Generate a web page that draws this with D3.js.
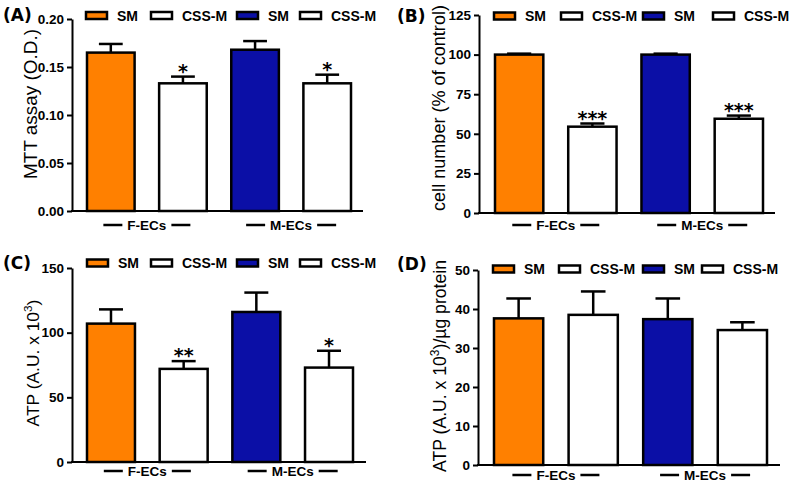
<!DOCTYPE html>
<html>
<head>
<meta charset="utf-8">
<script src="https://cdn.jsdelivr.net/npm/d3@7"></script>
<style>
  body { margin: 0; background: #fff; }
  svg { display: block; font-family: "Liberation Sans", Arial, sans-serif; }
</style>
</head>
<body>
<svg width="790" height="484"></svg>
<script>
// bars in each panel, left to right
let groups = ["F-ECs", "M-ECs"];
let barKeys = ["F-SM", "F-CSS", "M-SM", "M-CSS"];
let seriesNames = ["SM", "CSS-M", "SM", "CSS-M"];
let seriesColors = ["#ff8000", "#ffffff", "#0b0fa6", "#ffffff"];

// (A) MTT assay
let mttMean = [0.165, 0.133, 0.168, 0.133];
let mttErr = [0.009, 0.007, 0.009, 0.009];
let mttSig = ["", "*", "", "*"];
let mttTicks = [0, 0.05, 0.10, 0.15, 0.20];

// (B) cell number
let cellMean = [100, 54.5, 100, 59.5];
let cellErr = [0.6, 2.0, 0.6, 2.0];
let cellSig = ["", "***", "", "***"];
let cellTicks = [0, 25, 50, 75, 100, 125];

// (C) ATP
let atpMean = [107, 72, 116, 73];
let atpErr = [11, 6, 15, 13];
let atpSig = ["", "**", "", "*"];
let atpTicks = [0, 50, 100, 150];

// (D) ATP per protein
let atpProtMean = [37.6, 38.5, 37.4, 34.6];
let atpProtErr = [5.1, 6.0, 5.3, 2.0];
let atpProtSig = ["", "", "", ""];
let atpProtTicks = [0, 10, 20, 30, 40, 50];

let svg = d3.select("svg");

function panel(p) {
    let g = svg.append("g");

    let y = d3.scaleLinear()
        .domain([0, p.ticks[p.ticks.length - 1]])
        .range([p.bottom, p.top]);

    let x = d3.scaleBand()
        .domain(barKeys)
        .range(p.barRange)
        .paddingInner(0.34);

    let data = barKeys.map((k, i) => ({
        key: k, mean: p.mean[i], err: p.err[i], sig: p.sig[i], color: seriesColors[i]
    }));

    // error bars (upper only) drawn first, bar covers the lower part
    let eb = g.selectAll(".err").data(data).enter().append("g");
    eb.append("line")
        .attr("x1", d => x(d.key) + x.bandwidth() / 2)
        .attr("x2", d => x(d.key) + x.bandwidth() / 2)
        .attr("y1", d => y(d.mean))
        .attr("y2", d => y(d.mean + d.err))
        .attr("stroke", "#000").attr("stroke-width", 2.5);
    eb.append("line")
        .attr("x1", d => x(d.key) + x.bandwidth() / 4)
        .attr("x2", d => x(d.key) + x.bandwidth() * 3 / 4)
        .attr("y1", d => y(d.mean + d.err))
        .attr("y2", d => y(d.mean + d.err))
        .attr("stroke", "#000").attr("stroke-width", 2.5);

    g.selectAll(".bar").data(data).enter().append("rect")
        .attr("x", d => x(d.key))
        .attr("y", d => y(d.mean))
        .attr("width", x.bandwidth())
        .attr("height", d => y(0) - y(d.mean))
        .attr("fill", d => d.color)
        .attr("stroke", "#000")
        .attr("stroke-width", 2.5);

    // significance stars
    g.selectAll(".sig").data(data.filter(d => d.sig)).enter().append("text")
        .attr("x", d => x(d.key) + x.bandwidth() / 2)
        .attr("y", d => y(d.mean + d.err) + 1)
        .attr("text-anchor", "middle")
        .style("font-family", "'DejaVu Sans', sans-serif")
        .style("font-weight", "bold")
        .style("font-size", "19px")
        .text(d => d.sig);

    // y axis
    let ya = g.append("g")
        .attr("transform", "translate(" + p.left + ",0)")
        .call(d3.axisLeft(y).tickValues(p.ticks).tickFormat(p.fmt)
            .tickSize(5).tickSizeOuter(0).tickPadding(3));
    ya.select(".domain").attr("stroke-width", 2);
    ya.selectAll(".tick line").attr("stroke-width", 2);
    ya.selectAll(".tick text")
        .style("font-family", "'Liberation Sans', Arial, sans-serif")
        .style("font-size", "13.5px")
        .style("font-weight", "bold")
        .attr("fill", "#000");

    // x baseline
    g.append("line")
        .attr("x1", p.left - 1).attr("x2", p.right)
        .attr("y1", y(0)).attr("y2", y(0))
        .attr("stroke", "#000").attr("stroke-width", 2);

    // group labels with dashes either side
    groups.forEach((name, gi) => {
        let k0 = barKeys[gi * 2], k1 = barKeys[gi * 2 + 1];
        let cx = (x(k0) + x(k1) + x.bandwidth()) / 2;
        let t = g.append("text")
            .attr("x", cx).attr("y", y(0) + p.labelDy)
            .attr("text-anchor", "middle")
            .style("font-size", "13.5px")
            .style("font-weight", "bold")
            .text(name);
        let w = t.node().getComputedTextLength();
        [-1, 1].forEach(s => {
            let inner = cx + s * (w / 2 + 5);
            g.append("line")
                .attr("x1", inner).attr("x2", inner + s * 19)
                .attr("y1", y(0) + p.labelDy - 5).attr("y2", y(0) + p.labelDy - 5)
                .attr("stroke", "#000").attr("stroke-width", 2.5);
        });
    });

    // legend
    seriesNames.forEach((name, i) => {
        let lx = p.legendX[i];
        g.append("rect")
            .attr("x", lx).attr("y", p.legendY - 3.5)
            .attr("width", 21).attr("height", 7)
            .attr("fill", seriesColors[i])
            .attr("stroke", "#000").attr("stroke-width", 2.5);
        g.append("text")
            .attr("x", lx + 31).attr("y", p.legendY)
            .attr("dy", "0.36em")
            .style("font-size", "14px")
            .style("font-weight", "bold")
            .text(name);
    });

    // panel letter
    g.append("text")
        .attr("x", p.letterX).attr("y", p.letterY)
        .style("font-family", "'DejaVu Sans', sans-serif")
        .style("font-weight", "bold")
        .style("font-size", "17px")
        .text(p.letter);

    // rotated y title, sized to fill the span seen in the figure
    let title = g.append("text")
        .attr("transform", "translate(" + p.titleX + "," + p.titleY + ") rotate(-90)")
        .attr("text-anchor", "middle")
        .attr("dy", "0.36em");
    function fill(fs) {
        title.selectAll("*").remove();
        title.style("font-size", fs + "px");
        p.title.forEach(part => {
            let ts = title.append("tspan").text(part.t);
            if (part.sup) {
                ts.style("font-size", (fs * 0.68) + "px").attr("dy", -fs * 0.4);
            } else if (part.after) {
                ts.attr("dy", fs * 0.4);
            }
        });
    }
    fill(10);
    let len = title.node().getComputedTextLength();
    fill(10 * p.titleSpan / len);
}

panel({
    letter: "(A)", letterX: 3, letterY: 21,
    left: 72, right: 363, top: 19, bottom: 211, barRange: [87, 351],
    ticks: mttTicks, fmt: d3.format(".2f"), labelDy: 19,
    mean: mttMean, err: mttErr, sig: mttSig,
    legendX: [86, 151, 237, 300], legendY: 15.5,
    title: [{ t: "MTT assay (O.D.)" }], titleX: 30, titleY: 104, titleSpan: 150
});

panel({
    letter: "(B)", letterX: 397, letterY: 22,
    left: 479, right: 775, top: 15, bottom: 213, barRange: [495, 763],
    ticks: cellTicks, fmt: d3.format("d"), labelDy: 17,
    mean: cellMean, err: cellErr, sig: cellSig,
    legendX: [494, 561, 643, 713], legendY: 16,
    title: [{ t: "cell number (% of control)" }], titleX: 438, titleY: 108, titleSpan: 206
});

panel({
    letter: "(C)", letterX: 3, letterY: 269,
    left: 72, right: 366, top: 268, bottom: 462, barRange: [87, 353],
    ticks: atpTicks, fmt: d3.format("d"), labelDy: 14,
    mean: atpMean, err: atpErr, sig: atpSig,
    legendX: [87, 151, 237, 300], legendY: 263,
    title: [{ t: "ATP (A.U. x 10" }, { t: "3", sup: true }, { t: ")", after: true }],
    titleX: 33, titleY: 363, titleSpan: 127
});

panel({
    letter: "(D)", letterX: 397, letterY: 270,
    left: 478, right: 780, top: 270, bottom: 465, barRange: [494, 767],
    ticks: atpProtTicks, fmt: d3.format("d"), labelDy: 15,
    mean: atpProtMean, err: atpProtErr, sig: atpProtSig,
    legendX: [493, 559, 643, 702], legendY: 269,
    title: [{ t: "ATP (A.U. x 10" }, { t: "3", sup: true }, { t: ")/\u00b5g protein", after: true }],
    titleX: 440, titleY: 366, titleSpan: 212
});
</script>
</body>
</html>
